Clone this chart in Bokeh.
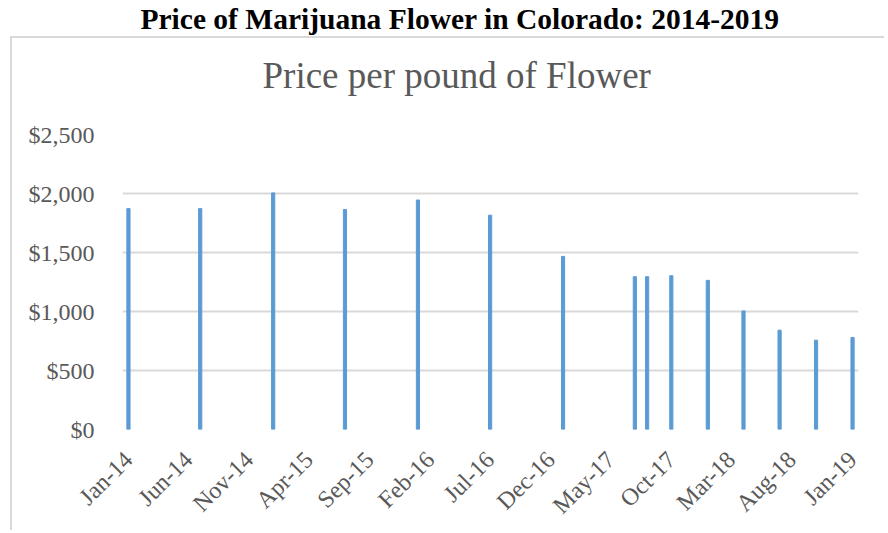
import pandas as pd
from bokeh.plotting import figure
from bokeh.layouts import column
from bokeh.models import (FixedTicker, DatetimeTickFormatter, NumeralTickFormatter,
                          Range1d, ColumnDataSource)
from bokeh.embed import file_html
from bokeh.resources import INLINE
import math

# ---- data ----
dates = ["2014-01", "2014-07", "2015-01", "2015-07", "2016-01", "2016-07", "2017-01",
         "2017-07", "2017-08", "2017-10", "2018-01", "2018-04", "2018-07", "2018-10", "2019-01"]
prices = [1872, 1872, 2005, 1864, 1945, 1816, 1467, 1295, 1295, 1303, 1264, 1005, 842, 757, 780]
tick_labels = ["Jan-14", "Jun-14", "Nov-14", "Apr-15", "Sep-15", "Feb-16", "Jul-16",
               "Dec-16", "May-17", "Oct-17", "Mar-18", "Aug-18", "Jan-19"]
y_ticks = [0, 500, 1000, 1500, 2000, 2500]
main_title = "Price of Marijuana Flower in Colorado: 2014-2019"
chart_title = "Price per pound of Flower"

x = pd.to_datetime(dates, format="%Y-%m")
src = ColumnDataSource(dict(x=x, top=prices))
tick_dt = pd.to_datetime(tick_labels, format="%b-%y")
tick_ms = [t.value // 10**6 for t in tick_dt]

DAY = 86400000
x0 = tick_dt[0] - pd.Timedelta(days=15)
x1 = tick_dt[-1] + pd.Timedelta(days=15)


def title_only(text, w, h, size, style, color, offset):
    f = figure(width=w, height=h, output_backend="svg", toolbar_location=None,
               x_axis_location=None, y_axis_location=None,
               min_border_left=0, min_border_right=0, min_border_top=0, min_border_bottom=0)
    f.grid.visible = False
    f.outline_line_color = None
    f.title.text = text
    f.title.text_font = "Liberation Serif"
    f.title.text_font_style = style
    f.title.text_font_size = size
    f.title.text_color = color
    f.title.align = "left"
    f.title.offset = offset
    f.title.standoff = 0
    return f


# ---- outer title (outside the bordered chart box) ----
pt = title_only(main_title, 880, 36, "29.5px", "bold", "#000000", 140)

# ---- chart title inside the box ----
pt2 = title_only(chart_title, 872, 46, "37px", "normal", "#595959", 140)
pt2.margin = (14, 0, 0, 0)

# ---- chart ----
p = figure(width=872, height=432, output_backend="svg", toolbar_location=None,
           x_axis_type="datetime",
           x_range=Range1d(x0, x1), y_range=Range1d(0, 2500),
           min_border_left=110, min_border_right=26, min_border_top=36, min_border_bottom=100)
p.outline_line_color = None

p.vbar(x="x", top="top", source=src, width=8 * DAY, color="#5B9BD5")

p.xgrid.grid_line_color = None
p.ygrid.grid_line_color = "#d9d9d9"
p.ygrid.grid_line_width = 2
p.yaxis.ticker = FixedTicker(ticks=y_ticks)
p.yaxis.formatter = NumeralTickFormatter(format="$0,0")
p.xaxis.ticker = FixedTicker(ticks=tick_ms)
fmt = "%b-%y"
p.xaxis.formatter = DatetimeTickFormatter(microseconds=fmt, milliseconds=fmt, seconds=fmt,
                                          minsec=fmt, minutes=fmt, hourmin=fmt, hours=fmt,
                                          days=fmt, months=fmt, years=fmt)
p.xaxis.major_label_orientation = math.pi / 4
for ax in (p.xaxis, p.yaxis):
    ax.axis_line_color = None
    ax.major_tick_line_color = None
    ax.minor_tick_line_color = None
    ax.major_tick_out = 0
    ax.major_tick_in = 0
    ax.major_label_text_font = "Liberation Serif"
    ax.major_label_text_color = "#595959"
    ax.major_label_text_font_size = "24px"
p.yaxis.major_label_standoff = 28
p.xaxis.major_label_standoff = 26

box = column(pt2, p, spacing=0)
box.margin = (0, 0, 0, 10)
box.styles = {"border-left": "2px solid #d9d9d9", "border-top": "2px solid #d9d9d9"}

layout = column(pt, box, spacing=0)
open("out.html", "w").write(file_html(layout, INLINE))
